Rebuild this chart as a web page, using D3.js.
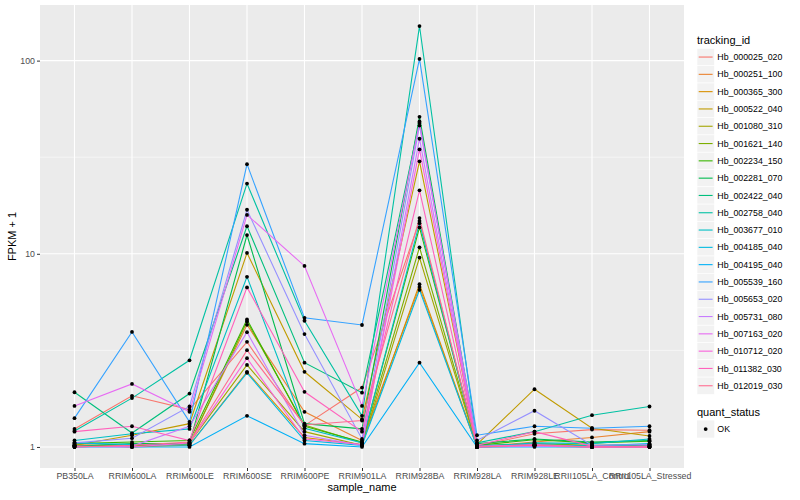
<!DOCTYPE html>
<html>
<head>
<meta charset="utf-8">
<script src="https://cdn.jsdelivr.net/npm/d3@7"></script>
<style>
  body { margin: 0; background: #fff; }
  text { font-family: "Liberation Sans", Arial, sans-serif; }
</style>
</head>
<body>
<div id="chart"></div>
<script>

const samples = ["PB350LA", "RRIM600LA", "RRIM600LE", "RRIM600SE", "RRIM600PE", "RRIM901LA",
    "RRIM928BA", "RRIM928LA", "RRIM928LE", "RRII105LA_Control", "RRII105LA_Stressed"];

const trackingIds = ["Hb_000025_020", "Hb_000251_100", "Hb_000365_300", "Hb_000522_040", "Hb_001080_310",
    "Hb_001621_140", "Hb_002234_150", "Hb_002281_070", "Hb_002422_040", "Hb_002758_040",
    "Hb_003677_010", "Hb_004185_040", "Hb_004195_040", "Hb_005539_160", "Hb_005653_020",
    "Hb_005731_080", "Hb_007163_020", "Hb_010712_020", "Hb_011382_030", "Hb_012019_030"];

// FPKM + 1, one row per tracking_id, one value per sample
const fpkm = [
    [1.24, 1.84, 1.56, 3.50, 1.29, 2.03, 14.8, 1.01, 1.17, 1.23, 1.22],
    [1.02, 1.02, 1.04, 4.29, 1.52, 1.08, 6.73, 1.00, 1.06, 1.12, 1.20],
    [1.03, 1.00, 1.02, 2.45, 1.12, 1.03, 6.96, 1.00, 1.01, 1.00, 1.00],
    [1.02, 1.15, 1.32, 10.1, 2.45, 1.39, 30.1, 1.03, 1.99, 1.25, 1.14],
    [1.01, 1.01, 1.05, 2.66, 1.20, 1.02, 9.56, 1.00, 1.02, 1.00, 1.01],
    [1.00, 1.02, 1.03, 4.46, 1.30, 1.05, 10.8, 1.01, 1.04, 1.02, 1.03],
    [1.04, 1.06, 1.08, 4.57, 1.28, 1.06, 13.7, 1.02, 1.09, 1.05, 1.07],
    [1.01, 1.04, 1.04, 12.5, 1.32, 1.24, 51.2, 1.04, 1.10, 1.06, 1.08],
    [1.92, 1.18, 1.89, 13.9, 2.73, 1.91, 48.4, 1.02, 1.03, 1.01, 1.02],
    [1.21, 1.79, 2.81, 23.1, 4.50, 1.45, 151, 1.05, 1.20, 1.46, 1.62],
    [1.08, 1.17, 1.24, 7.60, 1.25, 1.05, 14.4, 1.00, 1.05, 1.04, 1.10],
    [1.05, 1.03, 1.02, 2.42, 1.08, 1.02, 6.50, 1.00, 1.02, 1.01, 1.04],
    [1.00, 1.00, 1.00, 1.45, 1.04, 1.00, 2.73, 1.00, 1.00, 1.00, 1.00],
    [1.41, 3.94, 1.35, 29.1, 4.66, 4.28, 102, 1.15, 1.28, 1.25, 1.28],
    [1.05, 1.11, 1.62, 16.9, 3.84, 1.10, 46.1, 1.08, 1.54, 1.02, 1.03],
    [1.00, 1.01, 1.28, 3.93, 1.15, 1.02, 39.4, 1.00, 1.01, 1.00, 1.00],
    [1.63, 2.12, 1.52, 15.9, 8.65, 1.63, 47.6, 1.01, 1.02, 1.00, 1.00],
    [1.01, 1.00, 1.05, 2.88, 1.10, 1.03, 34.7, 1.00, 1.03, 1.00, 1.01],
    [1.20, 1.28, 1.08, 6.70, 1.93, 1.20, 21.3, 1.02, 1.20, 1.01, 1.00],
    [1.00, 1.02, 1.06, 3.17, 1.30, 1.37, 15.3, 1.00, 1.02, 1.00, 1.00]
];

const yTicks = [1, 10, 100];
const yMinorTicks = [Math.sqrt(10), Math.sqrt(1000)];
const quantStatus = ["OK"];

const palette = ["#F8766D", "#EA8331", "#D89000", "#C09B00", "#A3A500", "#7CAE00", "#39B600",
    "#00BB4E", "#00BF7D", "#00C1A3", "#00BFC4", "#00BAE0", "#00B0F6", "#35A2FF", "#9590FF",
    "#C77CFF", "#E76BF3", "#FA62DB", "#FF62BC", "#FF6C91"];

function drawChart() {

    const dimesions = {
        width: 800,
        height: 500,
        margin: { top: 5, bottom: 32, left: 40, right: 116 }
    }
    dimesions.containerWidth = dimesions.width - (dimesions.margin.left + dimesions.margin.right);
    dimesions.containerHeight = dimesions.height - (dimesions.margin.top + dimesions.margin.bottom);

    const series = trackingIds.map((id, i) => ({
        id: id,
        values: samples.map((s, j) => ({ sample: s, value: fpkm[i][j] }))
    }));
    const points = series.flatMap(d => d.values);

    const xAccessor = d => d.sample;
    const yAccessor = d => d.value;

    const svg = d3.select("#chart")
        .append("svg")
        .attr("width", dimesions.width)
        .attr("height", dimesions.height);

    const xScale = d3.scalePoint()
        .domain(samples)
        .range([0, dimesions.containerWidth])
        .padding(0.6);

    // ggplot style 5% expansion on the log axis
    const lo = Math.log10(d3.min(points, yAccessor));
    const hi = Math.log10(d3.max(points, yAccessor));
    const pad = (hi - lo) * 0.05;
    const yScale = d3.scaleLog()
        .domain([Math.pow(10, lo - pad), Math.pow(10, hi + pad)])
        .range([dimesions.containerHeight, 0]);

    const colorScale = d3.scaleOrdinal()
        .domain(trackingIds)
        .range(palette);

    const container = svg.append("g")
        .attr("transform", `translate(${dimesions.margin.left}, ${dimesions.margin.top})`);

    container.append("rect")
        .attr("width", dimesions.containerWidth)
        .attr("height", dimesions.containerHeight)
        .attr("fill", "#EBEBEB");

    // grid
    container.selectAll(".minor")
        .data(yMinorTicks)
        .join("line")
        .attr("x1", 0)
        .attr("x2", dimesions.containerWidth)
        .attr("y1", d => yScale(d))
        .attr("y2", d => yScale(d))
        .attr("stroke", "#fff")
        .attr("stroke-width", 0.55);

    container.selectAll(".major-y")
        .data(yTicks)
        .join("line")
        .attr("x1", 0)
        .attr("x2", dimesions.containerWidth)
        .attr("y1", d => yScale(d))
        .attr("y2", d => yScale(d))
        .attr("stroke", "#fff")
        .attr("stroke-width", 1.1);

    container.selectAll(".major-x")
        .data(samples)
        .join("line")
        .attr("x1", d => xScale(d))
        .attr("x2", d => xScale(d))
        .attr("y1", 0)
        .attr("y2", dimesions.containerHeight)
        .attr("stroke", "#fff")
        .attr("stroke-width", 1.1);

    const line = d3.line()
        .x(d => xScale(xAccessor(d)))
        .y(d => yScale(yAccessor(d)));

    container.selectAll(".series")
        .data(series)
        .join("path")
        .attr("fill", "none")
        .attr("stroke", d => colorScale(d.id))
        .attr("stroke-width", 1.1)
        .attr("d", d => line(d.values));

    container.selectAll(".pt")
        .data(points)
        .join("circle")
        .attr("r", 1.9)
        .attr("fill", "#000")
        .attr("cx", d => xScale(xAccessor(d)))
        .attr("cy", d => yScale(yAccessor(d)));

    // axes
    const xAxis = d3.axisBottom(xScale).tickSize(3).tickPadding(2);
    const yAxis = d3.axisLeft(yScale).tickValues(yTicks).tickFormat(d3.format("d")).tickSize(3).tickPadding(2);

    const xAxisGroup = container.append("g")
        .call(xAxis)
        .attr("transform", `translate(0, ${dimesions.containerHeight})`);

    const yAxisGroup = container.append("g")
        .call(yAxis);

    [xAxisGroup, yAxisGroup].forEach(g => {
        g.select(".domain").remove();
        g.selectAll(".tick line").attr("stroke", "#333").attr("stroke-width", 1);
        g.selectAll(".tick text").attr("fill", "#4D4D4D").style("font-size", "8.8px");
    });

    svg.append("text")
        .attr("x", dimesions.margin.left + dimesions.containerWidth / 2)
        .attr("y", 491)
        .attr("text-anchor", "middle")
        .style("font-size", "11px")
        .text("sample_name");

    svg.append("text")
        .attr("transform", `translate(16, ${dimesions.margin.top + dimesions.containerHeight / 2}) rotate(-90)`)
        .attr("text-anchor", "middle")
        .style("font-size", "11px")
        .text("FPKM + 1");

    // legends
    const legendX = 697;
    const keySize = 17.3;

    const legend = svg.append("g")
        .attr("transform", `translate(${legendX}, 0)`);

    legend.append("text")
        .attr("x", 0)
        .attr("y", 44)
        .style("font-size", "11px")
        .text("tracking_id");

    const keys = legend.selectAll(".key")
        .data(trackingIds)
        .join("g")
        .attr("transform", (d, i) => `translate(0, ${48.4 + i * keySize})`);

    keys.append("rect")
        .attr("width", keySize)
        .attr("height", keySize)
        .attr("fill", "#F2F2F2")
        .attr("stroke", "#fff")
        .attr("stroke-width", 0.6);

    keys.append("line")
        .attr("x1", 1.7)
        .attr("x2", keySize - 1.7)
        .attr("y1", keySize / 2)
        .attr("y2", keySize / 2)
        .attr("stroke", d => colorScale(d))
        .attr("stroke-width", 1.1);

    keys.append("text")
        .attr("x", keySize + 3)
        .attr("y", keySize / 2)
        .attr("dy", "0.35em")
        .style("font-size", "8.8px")
        .text(d => d);

    legend.append("text")
        .attr("x", 0)
        .attr("y", 416)
        .style("font-size", "11px")
        .text("quant_status");

    const qKeys = legend.selectAll(".qkey")
        .data(quantStatus)
        .join("g")
        .attr("transform", (d, i) => `translate(0, ${420.4 + i * keySize})`);

    qKeys.append("rect")
        .attr("width", keySize)
        .attr("height", keySize)
        .attr("fill", "#F2F2F2");

    qKeys.append("circle")
        .attr("cx", keySize / 2)
        .attr("cy", keySize / 2)
        .attr("r", 1.9)
        .attr("fill", "#000");

    qKeys.append("text")
        .attr("x", keySize + 3)
        .attr("y", keySize / 2)
        .attr("dy", "0.35em")
        .style("font-size", "8.8px")
        .text(d => d);
}

drawChart();
</script>
</body>
</html>
